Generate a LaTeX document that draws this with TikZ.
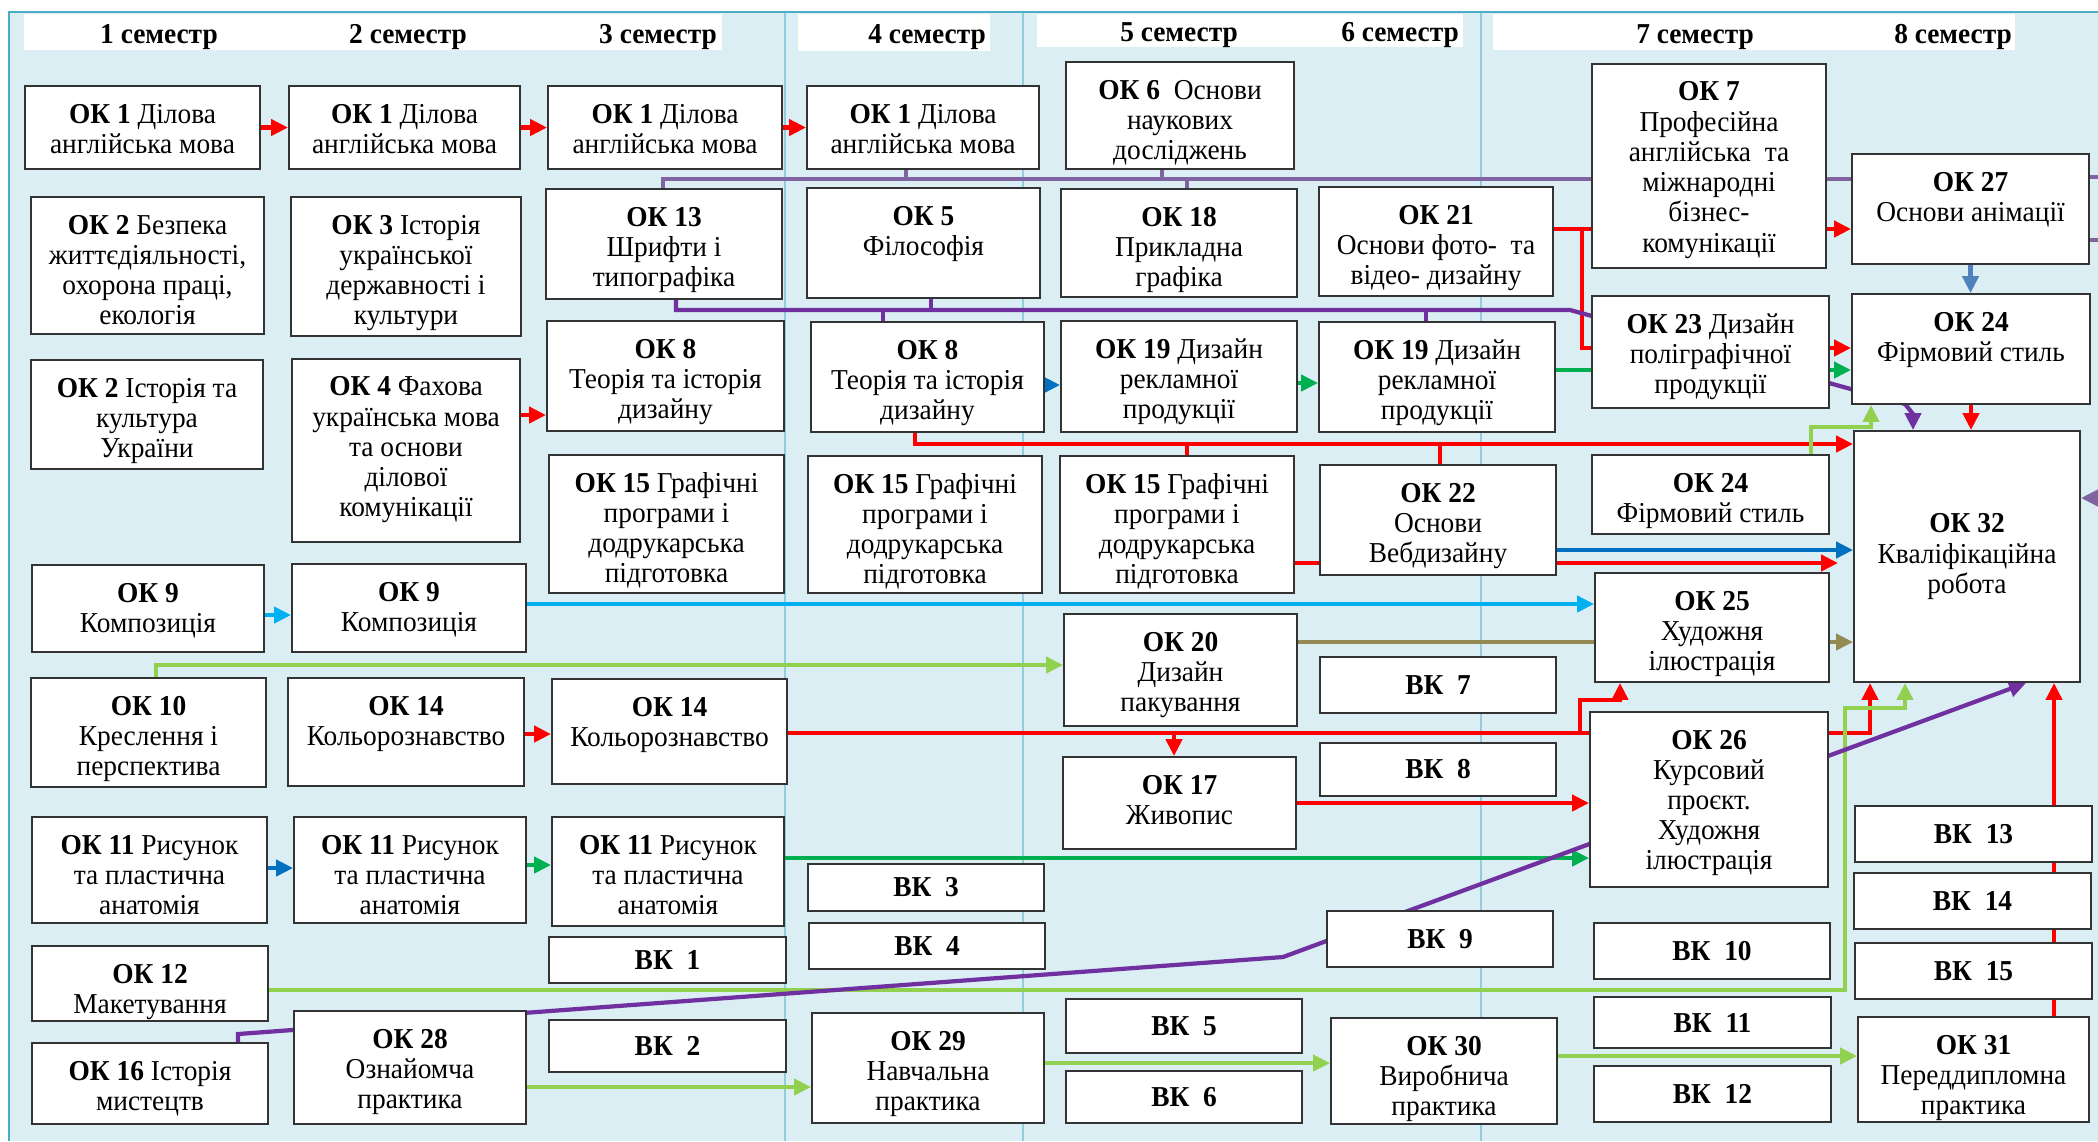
\documentclass[tikz,border=0pt]{standalone}
\usepackage{fontspec}
\setmainfont{Liberation Serif}[FakeStretch=0.95]
\usepackage{tikz}
\usetikzlibrary{arrows.meta}

\definecolor{tlo}{HTML}{DBEEF4}
\definecolor{ramka}{HTML}{4BACC6}
\definecolor{sitka}{HTML}{92CDDC}
\definecolor{chervonyi}{HTML}{FF0000}
\definecolor{synii}{HTML}{0070C0}
\definecolor{zelenyi}{HTML}{00B050}
\definecolor{blakytnyi}{HTML}{00B0F0}
\definecolor{salatovyi}{HTML}{92D050}
\definecolor{olyvkovyi}{HTML}{948A54}
\definecolor{stalevyi}{HTML}{4F81BD}
\definecolor{buzkovyi}{HTML}{8064A2}
\definecolor{fioletovyi}{HTML}{7030A0}

\newcommand{\rozmir}{\fontsize{8.2}{8.6}\selectfont}
\newcommand{\tekst}[1]{\begin{tabular}[t]{@{}c@{}}#1\end{tabular}}

\tikzstyle{blok} = [rectangle, draw=black!80, line width=0.5pt, fill=white, inner xsep=1pt]
\tikzstyle{predmet} = [blok, text height=0.19cm, inner ysep=0.18cm]
\tikzstyle{vybir} = [blok, inner ysep=0pt, font=\rozmir\bfseries]
\tikzstyle{semestr} = [anchor=base, font=\rozmir\bfseries]
\tikzstyle{liniya} = [line width=1.2pt]
\tikzstyle{strilka} = [liniya, -{Triangle[length=0.17cm,width=0.16cm]}]
\tikzset{rozmir/.code 2 args={\pgfmathsetmacro\glybyna{#2-0.55}%
  \edef\tmpkeys{\noexpand\pgfkeysalso{minimum width=#1cm, text depth=\glybyna cm}}\tmpkeys}}

\pgfdeclarelayer{pidklad}
\pgfdeclarelayer{zvyazky}
\pgfsetlayers{pidklad,zvyazky,main}

\begin{document}
\begin{tikzpicture}[x=0.01cm, y=-0.01cm, font=\rozmir]
\useasboundingbox (0,0) rectangle (2098,1141);
\begin{pgfonlayer}{pidklad}
	\fill[white] (0,0) rectangle (2098,1141);
	\fill[tlo] (9,12) rectangle (2098,1141);
	\foreach \x in {785,1023,1481}
		\draw[sitka, line width=0.5pt] (\x,12) -- (\x,1141);
	\draw[ramka, line width=0.8pt] (9,1141) -- (9,12) -- (2098,12);
	\fill[white] (24,14) rectangle (722,50);
	\fill[white] (798,14) rectangle (990,51);
	\fill[white] (1037,14) rectangle (1463,47);
	\fill[white] (1493,14) rectangle (2015,50);
\end{pgfonlayer}

% semestry
\node (s1) at (159,43) [semestr] {1 семестр};
\node (s2) at (408,43) [semestr] {2 семестр};
\node (s3) at (658,43) [semestr] {3 семестр};
\node (s4) at (927,43) [semestr] {4 семестр};
\node (s5) at (1179,41) [semestr] {5 семестр};
\node (s6) at (1400,41) [semestr] {6 семестр};
\node (s7) at (1695,43) [semestr] {7 семестр};
\node (s8) at (1953,43) [semestr] {8 семестр};

% 1 semestr
\node (ok1a) at (142.5,127.5) [predmet, rozmir={2.35}{0.83}] {\tekst{\textbf{ОК 1} Ділова\\англійська мова}};
\node (ok2a) at (147.5,265.5) [predmet, rozmir={2.33}{1.37}] {\tekst{\textbf{ОК 2} Безпека\\життєдіяльності,\\охорона праці,\\екологія}};
\node (ok2b) at (147,414.5) [predmet, rozmir={2.32}{1.09}] {\tekst{\textbf{ОК 2} Історія та\\культура\\України}};
\node (ok9a) at (148,608.5) [predmet, rozmir={2.32}{0.87}] {\tekst{\textbf{ОК 9}\\Композиція}};
\node (ok10) at (148.5,732.5) [predmet, rozmir={2.35}{1.09}] {\tekst{\textbf{ОК 10}\\Креслення і\\перспектива}};
\node (ok11a) at (149.5,870) [predmet, rozmir={2.35}{1.06}] {\tekst{\textbf{ОК 11} Рисунок\\та пластична\\анатомія}};
\node (ok12) at (150,983.5) [predmet, rozmir={2.36}{0.75}] {\tekst{\textbf{ОК 12}\\Макетування}};
\node (ok16) at (150,1083.5) [predmet, rozmir={2.36}{0.81}] {\tekst{\textbf{ОК 16} Історія\\мистецтв}};

% 2 semestr
\node (ok1b) at (404.5,127.5) [predmet, rozmir={2.31}{0.83}] {\tekst{\textbf{ОК 1} Ділова\\англійська мова}};
\node (ok3) at (406,266.5) [predmet, rozmir={2.30}{1.39}] {\tekst{\textbf{ОК 3} Історія\\української\\державності і\\культури}};
\node (ok4) at (406,450.5) [predmet, rozmir={2.28}{1.83}] {\tekst{\textbf{ОК 4} Фахова\\українська мова\\та основи\\ділової\\комунікації}};
\node (ok9b) at (409,608) [predmet, rozmir={2.34}{0.88}] {\tekst{\textbf{ОК 9}\\Композиція}};
\node (ok14a) at (406,732) [predmet, rozmir={2.36}{1.08}] {\tekst{\textbf{ОК 14}\\Кольорознавство}};
\node (ok11b) at (410,870) [predmet, rozmir={2.32}{1.06}] {\tekst{\textbf{ОК 11} Рисунок\\та пластична\\анатомія}};
\node (ok28) at (410,1067.5) [predmet, rozmir={2.32}{1.13}] {\tekst{\textbf{ОК 28}\\Ознайомча\\практика}};

% 3 semestr
\node (ok1c) at (665,127.5) [predmet, rozmir={2.34}{0.83}] {\tekst{\textbf{ОК 1} Ділова\\англійська мова}};
\node (ok13) at (664,244) [predmet, rozmir={2.36}{1.10}] {\tekst{\textbf{ОК 13}\\Шрифти і\\типографіка}};
\node (ok8a) at (665.5,376) [predmet, rozmir={2.37}{1.10}] {\tekst{\textbf{ОК 8}\\Теорія та історія\\дизайну}};
\node (ok15a) at (666.5,524) [predmet, rozmir={2.35}{1.38}] {\tekst{\textbf{ОК 15} Графічні\\програми і\\додрукарська\\підготовка}};
\node (ok14b) at (669.5,731.5) [predmet, rozmir={2.35}{1.05}] {\tekst{\textbf{ОК 14}\\Кольорознавство}};
\node (ok11c) at (668,871.5) [predmet, rozmir={2.32}{1.09}] {\tekst{\textbf{ОК 11} Рисунок\\та пластична\\анатомія}};
\node (vk1) at (667.5,960) [vybir, minimum width=2.37cm, minimum height=0.46cm] {ВК\ \ 1};
\node (vk2) at (667.5,1046) [vybir, minimum width=2.37cm, minimum height=0.52cm] {ВК\ \ 2};

% 4 semestr
\node (ok1d) at (923,127.5) [predmet, rozmir={2.32}{0.83}] {\tekst{\textbf{ОК 1} Ділова\\англійська мова}};
\node (ok5) at (923.5,243) [predmet, rozmir={2.33}{1.10}] {\tekst{\textbf{ОК 5}\\Філософія}};
\node (ok8b) at (927.5,377) [predmet, rozmir={2.33}{1.10}] {\tekst{\textbf{ОК 8}\\Теорія та історія\\дизайну}};
\node (ok15b) at (925,524.5) [predmet, rozmir={2.34}{1.37}] {\tekst{\textbf{ОК 15} Графічні\\програми і\\додрукарська\\підготовка}};
\node (vk3) at (926,887.5) [vybir, minimum width=2.36cm, minimum height=0.47cm] {ВК\ \ 3};
\node (vk4) at (927,946) [vybir, minimum width=2.36cm, minimum height=0.46cm] {ВК\ \ 4};
\node (ok29) at (928,1068) [predmet, rozmir={2.32}{1.10}] {\tekst{\textbf{ОК 29}\\Навчальна\\практика}};

% 5 semestr
\node (ok6) at (1180,115.5) [predmet, rozmir={2.28}{1.07}] {\tekst{\textbf{ОК 6}\ \ Основи\\наукових\\досліджень}};
\node (ok18) at (1179,243) [predmet, rozmir={2.36}{1.08}] {\tekst{\textbf{ОК 18}\\Прикладна\\графіка}};
\node (ok19a) at (1179,376.5) [predmet, rozmir={2.36}{1.11}] {\tekst{\textbf{ОК 19} Дизайн\\рекламної\\продукції}};
\node (ok15c) at (1177,524.5) [predmet, rozmir={2.34}{1.37}] {\tekst{\textbf{ОК 15} Графічні\\програми і\\додрукарська\\підготовка}};
\node (ok20) at (1180.5,670) [predmet, rozmir={2.33}{1.12}] {\tekst{\textbf{ОК 20}\\Дизайн\\пакування}};
\node (ok17) at (1179.5,803) [predmet, rozmir={2.33}{0.92}] {\tekst{\textbf{ОК 17}\\Живопис}};
\node (vk5) at (1184,1026) [vybir, minimum width=2.36cm, minimum height=0.54cm] {ВК\ \ 5};
\node (vk6) at (1184,1097) [vybir, minimum width=2.36cm, minimum height=0.52cm] {ВК\ \ 6};

% 6 semestr
\node (ok21) at (1436,241.5) [predmet, rozmir={2.34}{1.09}] {\tekst{\textbf{ОК 21}\\Основи фото-\ \ та\\відео- дизайну}};
\node (ok19b) at (1437,377) [predmet, rozmir={2.36}{1.10}] {\tekst{\textbf{ОК 19} Дизайн\\рекламної\\продукції}};
\node (ok22) at (1438,520) [predmet, rozmir={2.36}{1.10}] {\tekst{\textbf{ОК 22}\\Основи\\Вебдизайну}};
\node (vk7) at (1438,685) [vybir, minimum width=2.36cm, minimum height=0.56cm] {ВК\ \ 7};
\node (vk8) at (1438,769.5) [vybir, minimum width=2.36cm, minimum height=0.53cm] {ВК\ \ 8};
\node (vk9) at (1440,939) [vybir, minimum width=2.26cm, minimum height=0.56cm] {ВК\ \ 9};
\node (ok30) at (1444,1071) [predmet, rozmir={2.26}{1.06}] {\tekst{\textbf{ОК 30}\\Виробнича\\практика}};

% 7 semestr
\node (ok7) at (1709,166) [predmet, rozmir={2.34}{2.04}] {\tekst{\textbf{ОК 7}\\Професійна\\англійська\ \ та\\міжнародні\\бізнес-\\комунікації}};
\node (ok23) at (1710.5,352) [predmet, rozmir={2.37}{1.12}] {\tekst{\textbf{ОК 23} Дизайн\\поліграфічної\\продукції}};
\node (ok24a) at (1710.5,494.5) [predmet, rozmir={2.37}{0.79}] {\tekst{\textbf{ОК 24}\\Фірмовий стиль}};
\node (ok25) at (1712,627.5) [predmet, rozmir={2.34}{1.09}] {\tekst{\textbf{ОК 25}\\Художня\\ілюстрація}};
\node (ok26) at (1709,799.5) [predmet, rozmir={2.38}{1.75}] {\tekst{\textbf{ОК 26}\\Курсовий\\проєкт.\\Художня\\ілюстрація}};
\node (vk10) at (1712,951) [vybir, minimum width=2.36cm, minimum height=0.56cm] {ВК\ \ 10};
\node (vk11) at (1712.5,1022.5) [vybir, minimum width=2.37cm, minimum height=0.51cm] {ВК\ \ 11};
\node (vk12) at (1712.5,1094) [vybir, minimum width=2.37cm, minimum height=0.56cm] {ВК\ \ 12};

% 8 semestr
\node (ok27) at (1970.5,209) [predmet, rozmir={2.37}{1.10}] {\tekst{\textbf{ОК 27}\\Основи анімації}};
\node (ok24b) at (1971,349) [predmet, rozmir={2.38}{1.10}] {\tekst{\textbf{ОК 24}\\Фірмовий стиль}};
\node (ok32) at (1967,556.5) [blok, align=center, minimum width=2.26cm, minimum height=2.51cm] {\textbf{ОК 32}\\Кваліфікаційна\\робота};
\node (vk13) at (1973.5,834) [vybir, minimum width=2.37cm, minimum height=0.56cm] {ВК\ \ 13};
\node (vk14) at (1972.5,901) [vybir, minimum width=2.37cm, minimum height=0.56cm] {ВК\ \ 14};
\node (vk15) at (1973.5,971) [vybir, minimum width=2.37cm, minimum height=0.56cm] {ВК\ \ 15};
\node (ok31) at (1973.5,1069.5) [predmet, rozmir={2.31}{1.05}] {\tekst{\textbf{ОК 31}\\Переддипломна\\практика}};

\begin{pgfonlayer}{zvyazky}
	% chervoni
	\draw[strilka, chervonyi] (ok1a.east) -- (ok1b.west);
	\draw[strilka, chervonyi] (ok1b.east) -- (ok1c.west);
	\draw[strilka, chervonyi] (ok1c.east) -- (ok1d.west);
	\draw[strilka, chervonyi] (ok4.east |- 0,415) -- (ok8a.west |- 0,415);
	\draw[strilka, chervonyi] (ok8b.south -| 915,0) |- (ok32.west |- 0,444);
	\draw[liniya, chervonyi] (ok15c.north -| 1187,0) -- (1187,444);
	\draw[liniya, chervonyi] (ok22.north -| 1440,0) -- (1440,444);
	\draw[strilka, chervonyi, shorten >=0.15cm] (ok15c.east |- 0,563) -- (ok32.west |- 0,563);
	\draw[strilka, chervonyi] (ok21.east |- 0,229) -- (ok27.west |- 0,229);
	\draw[strilka, chervonyi] (1582,229) |- (ok24b.west |- 0,348);
	\draw[strilka, chervonyi] (ok24b.south) -- (ok24b.south |- ok32.north);
	\draw[strilka, chervonyi] (ok14a.east |- 0,734) -- (ok14b.west |- 0,734);
	\draw[strilka, chervonyi] (ok14b.east |- 0,733) -| (ok32.south -| 1870,0);
	\draw[strilka, chervonyi] (1174,733) -- (ok17.north -| 1174,0);
	\draw[strilka, chervonyi] (1580,733) |- (1620,700) -- (ok25.south -| 1620,0);
	\draw[strilka, chervonyi] (ok17.east |- 0,803) -- (ok26.west |- 0,803);
	\draw[strilka, chervonyi] (ok31.north -| 2054,0) -- (ok32.south -| 2054,0);
	% syni
	\draw[strilka, synii] (ok8b.east |- 0,385) -- (ok19a.west |- 0,385);
	\draw[strilka, synii] (ok22.east |- 0,550) -- (ok32.west |- 0,550);
	\draw[strilka, synii] (ok11a.east |- 0,868) -- (ok11b.west |- 0,868);
	\draw[strilka, stalevyi] (ok27.south) -- (ok27.south |- ok24b.north);
	\draw[strilka, blakytnyi] (ok9a.east |- 0,615) -- (ok9b.west |- 0,615);
	\draw[strilka, blakytnyi] (ok9b.east |- 0,604) -- (ok25.west |- 0,604);
	% zeleni
	\draw[strilka, zelenyi] (ok19a.east |- 0,383) -- (ok19b.west |- 0,383);
	\draw[strilka, zelenyi] (ok19b.east |- 0,370) -- (ok24b.west |- 0,370);
	\draw[strilka, zelenyi] (ok11b.east |- 0,865) -- (ok11c.west |- 0,865);
	\draw[strilka, zelenyi] (ok11c.east |- 0,858) -- (ok26.west |- 0,858);
	\draw[strilka, salatovyi] (ok10.north -| 156,0) |- (ok20.west |- 0,665);
	\draw[strilka, salatovyi] (ok12.east |- 0,990) -| (1845,708) -| (ok32.south -| 1905,0);
	\draw[strilka, salatovyi] (ok24a.north -| 1811,0) |- (1871,427) -- (ok24b.south -| 1871,0);
	\draw[strilka, salatovyi] (ok28.east |- 0,1087) -- (ok29.west |- 0,1087);
	\draw[strilka, salatovyi] (ok29.east |- 0,1063) -- (ok30.west |- 0,1063);
	\draw[strilka, salatovyi] (ok30.east |- 0,1056) -- (ok31.west |- 0,1056);
	\draw[strilka, olyvkovyi] (ok20.east |- 0,642) -- (ok32.west |- 0,642);
	% fioletovi
	\draw[liniya, buzkovyi] (ok13.north -| 663,0) |- (ok27.west |- 0,179);
	\draw[liniya, buzkovyi] (ok1d.south -| 906,0) -- (906,179);
	\draw[liniya, buzkovyi] (ok6.south -| 1162,0) -- (1162,179);
	\draw[liniya, buzkovyi] (1187,179) -- (ok18.north -| 1187,0);
	\draw[strilka, buzkovyi] (ok27.east |- 0,177) -- (2120,177) -- (2120,498) -- (ok32.east |- 0,498);
	\draw[liniya, buzkovyi] (ok27.east |- 0,240) -- (2120,240);
	\draw[strilka, fioletovyi] (ok13.south -| 676,0) |- (1570,310) -- (1592,316) -- (1829,383) -- (1905,404) -- (1913,414) -- (ok32.north -| 1913,0);
	\draw[liniya, fioletovyi] (ok5.south -| 931,0) -- (931,310);
	\draw[liniya, fioletovyi] (883,310) -- (ok8b.north -| 883,0);
	\draw[liniya, fioletovyi] (1426,310) -- (ok19b.north -| 1426,0);
	\draw[strilka, fioletovyi] (ok16.north -| 238,0) -- (238,1034) -- (1283,957) -- (ok32.south -| 2026,0);
\end{pgfonlayer}
\end{tikzpicture}
\end{document}
